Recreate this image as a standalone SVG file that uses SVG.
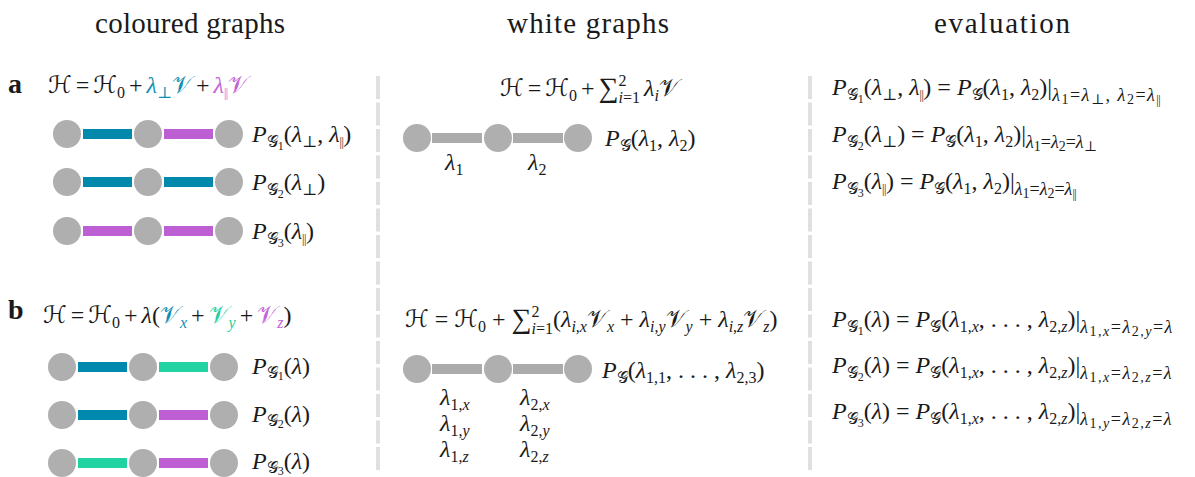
<svg xmlns="http://www.w3.org/2000/svg" width="1195" height="477" viewBox="0 0 1195 477">
<style>
.bg{fill:#ffffff}
.t{font-family:"Liberation Serif","DejaVu Serif",serif;font-size:29px;fill:#1a1a1a;text-anchor:middle}
.lab{font-family:"Liberation Serif","DejaVu Serif",serif;font-size:28px;font-weight:bold;fill:#1a1a1a}
.m{font-family:"Liberation Serif","DejaVu Serif","DejaVu Sans",serif;font-size:24px;fill:#1a1a1a}
.i{font-style:italic}
.s{font-size:16px}
.ss{font-size:12px}
.s2{font-size:18px}
.ss2{font-size:14px}
.sum{font-size:28px}
.par{font-size:12px;letter-spacing:-0.5px}
.tight{word-spacing:-2px}
.ls{letter-spacing:1.5px}
.te{fill:#1190b2}
.pu{fill:#c263d6}
.gr{fill:#22cf9e}
.node{fill:#afafaf}
.e{stroke-width:10;fill:none}
.eT{stroke:#0088ad}
.eP{stroke:#bd5fd3}
.eG{stroke:#21d3a1}
.eW{stroke:#ababab}
.div{stroke:#e0e0e0;stroke-width:4;stroke-dasharray:23 3.5;fill:none}
</style>
<rect class="bg" x="0" y="0" width="1195" height="477"/>

<g id="titles">
<text class="t" x="190" y="33" textLength="190" lengthAdjust="spacing">coloured graphs</text>
<text class="t" x="588" y="33" textLength="162" lengthAdjust="spacing">white graphs</text>
<text class="t" x="1002" y="33" textLength="136" lengthAdjust="spacing">evaluation</text>
</g>

<g id="dividers">
<line class="div" x1="378" y1="76" x2="378" y2="473"/>
<line class="div" x1="810" y1="76" x2="810" y2="473"/>
</g>

<g id="panel-labels">
<text class="lab" x="8" y="93">a</text>
<text class="lab" x="8" y="319">b</text>
</g>

<g id="connectors">
<line class="e eT" x1="83" y1="134" x2="132" y2="134"/>
<line class="e eP" x1="164" y1="134" x2="213" y2="134"/>
<line class="e eT" x1="83" y1="182" x2="132" y2="182"/>
<line class="e eT" x1="164" y1="182" x2="213" y2="182"/>
<line class="e eP" x1="83" y1="231" x2="132" y2="231"/>
<line class="e eP" x1="164" y1="231" x2="213" y2="231"/>
<line class="e eT" x1="78" y1="367" x2="127" y2="367"/>
<line class="e eG" x1="159" y1="367" x2="208" y2="367"/>
<line class="e eT" x1="78" y1="415" x2="127" y2="415"/>
<line class="e eP" x1="159" y1="415" x2="208" y2="415"/>
<line class="e eG" x1="78" y1="463" x2="127" y2="463"/>
<line class="e eP" x1="159" y1="463" x2="208" y2="463"/>
<line class="e eW" x1="432" y1="138" x2="482" y2="138"/>
<line class="e eW" x1="513" y1="138" x2="563" y2="138"/>
<line class="e eW" x1="432" y1="369" x2="482" y2="369"/>
<line class="e eW" x1="513" y1="369" x2="563" y2="369"/>
</g>

<g id="a-g1-n1"><circle class="node" cx="67" cy="134" r="14"/></g>
<g id="a-g1-n2"><circle class="node" cx="148" cy="134" r="14"/></g>
<g id="a-g1-n3"><circle class="node" cx="229" cy="134" r="14"/></g>
<g id="a-g2-n1"><circle class="node" cx="67" cy="182" r="14"/></g>
<g id="a-g2-n2"><circle class="node" cx="148" cy="182" r="14"/></g>
<g id="a-g2-n3"><circle class="node" cx="229" cy="182" r="14"/></g>
<g id="a-g3-n1"><circle class="node" cx="67" cy="231" r="14"/></g>
<g id="a-g3-n2"><circle class="node" cx="148" cy="231" r="14"/></g>
<g id="a-g3-n3"><circle class="node" cx="229" cy="231" r="14"/></g>
<g id="b-g1-n1"><circle class="node" cx="62" cy="367" r="14"/></g>
<g id="b-g1-n2"><circle class="node" cx="143" cy="367" r="14"/></g>
<g id="b-g1-n3"><circle class="node" cx="224" cy="367" r="14"/></g>
<g id="b-g2-n1"><circle class="node" cx="62" cy="415" r="14"/></g>
<g id="b-g2-n2"><circle class="node" cx="143" cy="415" r="14"/></g>
<g id="b-g2-n3"><circle class="node" cx="224" cy="415" r="14"/></g>
<g id="b-g3-n1"><circle class="node" cx="62" cy="463" r="14"/></g>
<g id="b-g3-n2"><circle class="node" cx="143" cy="463" r="14"/></g>
<g id="b-g3-n3"><circle class="node" cx="224" cy="463" r="14"/></g>
<g id="a-w-n1"><circle class="node" cx="417" cy="138" r="14"/></g>
<g id="a-w-n2"><circle class="node" cx="498" cy="138" r="14"/></g>
<g id="a-w-n3"><circle class="node" cx="578" cy="138" r="14"/></g>
<g id="b-w-n1"><circle class="node" cx="417" cy="369" r="14"/></g>
<g id="b-w-n2"><circle class="node" cx="498" cy="369" r="14"/></g>
<g id="b-w-n3"><circle class="node" cx="578" cy="369" r="14"/></g>

<g id="a-coloured-text">
<text class="m tight" x="48" y="93">ℋ = ℋ<tspan class="s" dy="5">0</tspan><tspan dy="-5"> + </tspan><tspan class="te i">λ</tspan><tspan class="te s" dy="5">⊥</tspan><tspan class="te" dy="-5">𝒱</tspan> + <tspan class="pu i">λ</tspan><tspan class="pu par" dy="4">||</tspan><tspan class="pu" dy="-4">𝒱</tspan></text>
<text class="m" x="252" y="142"><tspan class="i">P</tspan><tspan class="s" dy="5">𝒢</tspan><tspan class="ss" dy="3">1</tspan><tspan dy="-8">(</tspan><tspan class="i">λ</tspan><tspan class="s" dy="5">⊥</tspan><tspan dy="-5">, </tspan><tspan class="i">λ</tspan><tspan class="par" dy="4">||</tspan><tspan dy="-4">)</tspan></text>
<text class="m" x="252" y="190"><tspan class="i">P</tspan><tspan class="s" dy="5">𝒢</tspan><tspan class="ss" dy="3">2</tspan><tspan dy="-8">(</tspan><tspan class="i">λ</tspan><tspan class="s" dy="5">⊥</tspan><tspan dy="-5">)</tspan></text>
<text class="m" x="252" y="239"><tspan class="i">P</tspan><tspan class="s" dy="5">𝒢</tspan><tspan class="ss" dy="3">3</tspan><tspan dy="-8">(</tspan><tspan class="i">λ</tspan><tspan class="par" dy="4">||</tspan><tspan dy="-4">)</tspan></text>
</g>

<g id="b-coloured-text">
<text class="m tight" x="43" y="323">ℋ = ℋ<tspan class="s" dy="5">0</tspan><tspan dy="-5"> + </tspan><tspan class="i">λ</tspan>(<tspan class="te">𝒱</tspan><tspan class="te s i" dy="5">x</tspan><tspan dy="-5"> + </tspan><tspan class="gr">𝒱</tspan><tspan class="gr s i" dy="5">y</tspan><tspan dy="-5"> + </tspan><tspan class="pu">𝒱</tspan><tspan class="pu s i" dy="5">z</tspan><tspan dy="-5">)</tspan></text>
<text class="m" x="252" y="374"><tspan class="i">P</tspan><tspan class="s" dy="4">𝒢</tspan><tspan class="ss" dy="2">1</tspan><tspan dy="-6">(</tspan><tspan class="i">λ</tspan>)</text>
<text class="m" x="252" y="422"><tspan class="i">P</tspan><tspan class="s" dy="4">𝒢</tspan><tspan class="ss" dy="2">2</tspan><tspan dy="-6">(</tspan><tspan class="i">λ</tspan>)</text>
<text class="m" x="252" y="469"><tspan class="i">P</tspan><tspan class="s" dy="4">𝒢</tspan><tspan class="ss" dy="2">3</tspan><tspan dy="-6">(</tspan><tspan class="i">λ</tspan>)</text>
</g>

<g id="a-white-text">
<text class="m tight" x="500" y="96">ℋ = ℋ<tspan class="s" dy="5">0</tspan><tspan dy="-5"> + </tspan><tspan class="sum" dy="1">∑</tspan><tspan class="s" dy="-11">2</tspan><tspan class="s i" dx="-8" dy="17">i</tspan><tspan class="s">=1</tspan><tspan dy="-7"> </tspan><tspan class="i">λ</tspan><tspan class="s i" dy="5">i</tspan><tspan dy="-5">𝒱</tspan></text>
<text class="m" x="605" y="146"><tspan class="i">P</tspan><tspan class="s" dy="5">𝒢</tspan><tspan dy="-5">(</tspan><tspan class="i">λ</tspan><tspan class="s" dy="5">1</tspan><tspan dy="-5">, </tspan><tspan class="i">λ</tspan><tspan class="s" dy="5">2</tspan><tspan dy="-5">)</tspan></text>
<text class="m" x="445" y="170"><tspan class="i">λ</tspan><tspan class="s" dy="5">1</tspan></text>
<text class="m" x="528" y="170"><tspan class="i">λ</tspan><tspan class="s" dy="5">2</tspan></text>
</g>

<g id="b-white-text">
<text class="m" x="405" y="327">ℋ = ℋ<tspan class="s" dy="5">0</tspan><tspan dy="-5"> + </tspan><tspan class="sum" dy="1">∑</tspan><tspan class="s" dy="-11">2</tspan><tspan class="s i" dx="-8" dy="17">i</tspan><tspan class="s">=1</tspan><tspan dy="-7">(</tspan><tspan class="i">λ</tspan><tspan class="s" dy="5"><tspan class="i">i</tspan>,<tspan class="i">x</tspan></tspan><tspan dy="-5">𝒱</tspan><tspan class="s i" dy="5">x</tspan><tspan dy="-5"> + </tspan><tspan class="i">λ</tspan><tspan class="s" dy="5"><tspan class="i">i</tspan>,<tspan class="i">y</tspan></tspan><tspan dy="-5">𝒱</tspan><tspan class="s i" dy="5">y</tspan><tspan dy="-5"> + </tspan><tspan class="i">λ</tspan><tspan class="s" dy="5"><tspan class="i">i</tspan>,<tspan class="i">z</tspan></tspan><tspan dy="-5">𝒱</tspan><tspan class="s i" dy="5">z</tspan><tspan dy="-5">)</tspan></text>
<text class="m" x="602" y="378"><tspan class="i">P</tspan><tspan class="s" dy="5">𝒢</tspan><tspan dy="-5">(</tspan><tspan class="i">λ</tspan><tspan class="s" dy="5">1,1</tspan><tspan dy="-5">, . . . , </tspan><tspan class="i">λ</tspan><tspan class="s" dy="5">2,3</tspan><tspan dy="-5">)</tspan></text>
<text class="m" x="440" y="405"><tspan class="i">λ</tspan><tspan class="s" dy="5">1,<tspan class="i">x</tspan></tspan></text>
<text class="m" x="440" y="431"><tspan class="i">λ</tspan><tspan class="s" dy="5">1,<tspan class="i">y</tspan></tspan></text>
<text class="m" x="440" y="457"><tspan class="i">λ</tspan><tspan class="s" dy="5">1,<tspan class="i">z</tspan></tspan></text>
<text class="m" x="520" y="405"><tspan class="i">λ</tspan><tspan class="s" dy="5">2,<tspan class="i">x</tspan></tspan></text>
<text class="m" x="520" y="431"><tspan class="i">λ</tspan><tspan class="s" dy="5">2,<tspan class="i">y</tspan></tspan></text>
<text class="m" x="520" y="457"><tspan class="i">λ</tspan><tspan class="s" dy="5">2,<tspan class="i">z</tspan></tspan></text>
</g>

<g id="a-evaluation-text">
<text class="m" x="832" y="95"><tspan class="i">P</tspan><tspan class="s" dy="5">𝒢</tspan><tspan class="ss" dy="3">1</tspan><tspan dy="-8">(</tspan><tspan class="i">λ</tspan><tspan class="s" dy="5">⊥</tspan><tspan dy="-5">, </tspan><tspan class="i">λ</tspan><tspan class="par" dy="4">||</tspan><tspan dy="-4">) = </tspan><tspan class="i">P</tspan><tspan class="s" dy="5">𝒢</tspan><tspan dy="-5">(</tspan><tspan class="i">λ</tspan><tspan class="s" dy="5">1</tspan><tspan dy="-5">, </tspan><tspan class="i">λ</tspan><tspan class="s" dy="5">2</tspan><tspan dy="-5">)|</tspan><tspan class="ls"><tspan class="s2 i" dy="6">λ</tspan><tspan class="ss2" dy="3">1</tspan><tspan class="s2" dy="-3">=</tspan><tspan class="s2 i">λ</tspan><tspan class="ss2" dy="3">⊥</tspan><tspan class="s2" dy="-3">, </tspan><tspan class="s2 i">λ</tspan><tspan class="ss2" dy="3">2</tspan><tspan class="s2" dy="-3">=</tspan><tspan class="s2 i">λ</tspan></tspan><tspan class="par" dy="3">||</tspan></text>
<text class="m" x="832" y="142"><tspan class="i">P</tspan><tspan class="s" dy="5">𝒢</tspan><tspan class="ss" dy="3">2</tspan><tspan dy="-8">(</tspan><tspan class="i">λ</tspan><tspan class="s" dy="5">⊥</tspan><tspan dy="-5">) = </tspan><tspan class="i">P</tspan><tspan class="s" dy="5">𝒢</tspan><tspan dy="-5">(</tspan><tspan class="i">λ</tspan><tspan class="s" dy="5">1</tspan><tspan dy="-5">, </tspan><tspan class="i">λ</tspan><tspan class="s" dy="5">2</tspan><tspan dy="-5">)|</tspan><tspan class="s2 i" dy="6">λ</tspan><tspan class="ss2" dy="3">1</tspan><tspan class="s2" dy="-3">=</tspan><tspan class="s2 i">λ</tspan><tspan class="ss2" dy="3">2</tspan><tspan class="s2" dy="-3">=</tspan><tspan class="s2 i">λ</tspan><tspan class="ss2" dy="3">⊥</tspan></text>
<text class="m" x="832" y="189"><tspan class="i">P</tspan><tspan class="s" dy="5">𝒢</tspan><tspan class="ss" dy="3">3</tspan><tspan dy="-8">(</tspan><tspan class="i">λ</tspan><tspan class="par" dy="4">||</tspan><tspan dy="-4">) = </tspan><tspan class="i">P</tspan><tspan class="s" dy="5">𝒢</tspan><tspan dy="-5">(</tspan><tspan class="i">λ</tspan><tspan class="s" dy="5">1</tspan><tspan dy="-5">, </tspan><tspan class="i">λ</tspan><tspan class="s" dy="5">2</tspan><tspan dy="-5">)|</tspan><tspan class="s2 i" dy="6">λ</tspan><tspan class="ss2" dy="3">1</tspan><tspan class="s2" dy="-3">=</tspan><tspan class="s2 i">λ</tspan><tspan class="ss2" dy="3">2</tspan><tspan class="s2" dy="-3">=</tspan><tspan class="s2 i">λ</tspan><tspan class="par" dy="3">||</tspan></text>
</g>

<g id="b-evaluation-text">
<text class="m" x="832" y="327"><tspan class="i">P</tspan><tspan class="s" dy="5">𝒢</tspan><tspan class="ss" dy="3">1</tspan><tspan dy="-8">(</tspan><tspan class="i">λ</tspan>) = <tspan class="i">P</tspan><tspan class="s" dy="5">𝒢</tspan><tspan dy="-5">(</tspan><tspan class="i">λ</tspan><tspan class="s" dy="5">1,<tspan class="i">x</tspan></tspan><tspan dy="-5">, . . . , </tspan><tspan class="i">λ</tspan><tspan class="s" dy="5">2,<tspan class="i">z</tspan></tspan><tspan dy="-5">)|</tspan><tspan class="ls"><tspan class="s2 i" dy="6">λ</tspan><tspan class="ss2" dy="3">1,<tspan class="i">x</tspan></tspan><tspan class="s2" dy="-3">=</tspan><tspan class="s2 i">λ</tspan><tspan class="ss2" dy="3">2,<tspan class="i">y</tspan></tspan><tspan class="s2" dy="-3">=</tspan><tspan class="s2 i">λ</tspan></tspan></text>
<text class="m" x="832" y="373"><tspan class="i">P</tspan><tspan class="s" dy="5">𝒢</tspan><tspan class="ss" dy="3">2</tspan><tspan dy="-8">(</tspan><tspan class="i">λ</tspan>) = <tspan class="i">P</tspan><tspan class="s" dy="5">𝒢</tspan><tspan dy="-5">(</tspan><tspan class="i">λ</tspan><tspan class="s" dy="5">1,<tspan class="i">x</tspan></tspan><tspan dy="-5">, . . . , </tspan><tspan class="i">λ</tspan><tspan class="s" dy="5">2,<tspan class="i">z</tspan></tspan><tspan dy="-5">)|</tspan><tspan class="ls"><tspan class="s2 i" dy="6">λ</tspan><tspan class="ss2" dy="3">1,<tspan class="i">x</tspan></tspan><tspan class="s2" dy="-3">=</tspan><tspan class="s2 i">λ</tspan><tspan class="ss2" dy="3">2,<tspan class="i">z</tspan></tspan><tspan class="s2" dy="-3">=</tspan><tspan class="s2 i">λ</tspan></tspan></text>
<text class="m" x="832" y="419"><tspan class="i">P</tspan><tspan class="s" dy="5">𝒢</tspan><tspan class="ss" dy="3">3</tspan><tspan dy="-8">(</tspan><tspan class="i">λ</tspan>) = <tspan class="i">P</tspan><tspan class="s" dy="5">𝒢</tspan><tspan dy="-5">(</tspan><tspan class="i">λ</tspan><tspan class="s" dy="5">1,<tspan class="i">x</tspan></tspan><tspan dy="-5">, . . . , </tspan><tspan class="i">λ</tspan><tspan class="s" dy="5">2,<tspan class="i">z</tspan></tspan><tspan dy="-5">)|</tspan><tspan class="ls"><tspan class="s2 i" dy="6">λ</tspan><tspan class="ss2" dy="3">1,<tspan class="i">y</tspan></tspan><tspan class="s2" dy="-3">=</tspan><tspan class="s2 i">λ</tspan><tspan class="ss2" dy="3">2,<tspan class="i">z</tspan></tspan><tspan class="s2" dy="-3">=</tspan><tspan class="s2 i">λ</tspan></tspan></text>
</g>
</svg>
